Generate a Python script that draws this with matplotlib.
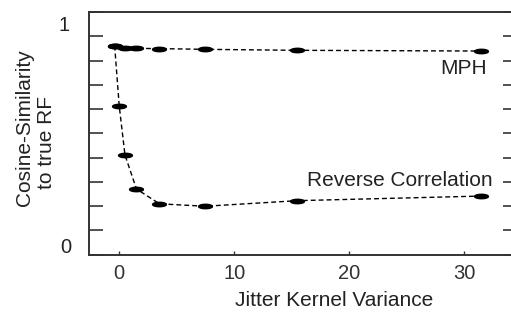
import numpy as np
import matplotlib
matplotlib.use("Agg")
import matplotlib.pyplot as plt

plt.rcParams['font.family'] = ['Liberation Sans', 'DejaVu Sans']

# values
variance_mph = [-0.4, 0.5, 1.5, 3.5, 7.5, 15.5, 31.5]
sim_mph = [0.861, 0.852, 0.850, 0.849, 0.846, 0.842, 0.839]
variance_rc = [-0.4, 0.0, 0.5, 1.5, 3.5, 7.5, 15.5, 31.5]
sim_rc = [0.861, 0.612, 0.410, 0.270, 0.209, 0.199, 0.222, 0.241]
xticks = [0, 10, 20, 30]
yticks = np.round(np.arange(0, 1.01, 0.1), 1)

txt = '#222222'

# flat ellipse marker
t = np.linspace(0, 2 * np.pi, 48)
ellipse = np.column_stack([np.cos(t), 0.32 * np.sin(t)])

fig = plt.figure(figsize=(5.11, 3.15), dpi=100)
ax = fig.add_axes([89 / 511, 1 - 254.5 / 315, (517 - 89) / 511, (254.5 - 12) / 315])

style = dict(color='black', lw=1.0, dashes=(3.5, 2.2), marker=ellipse,
             markersize=10, markerfacecolor='black', markeredgecolor='black')
ax.plot(variance_rc, sim_rc, **style)
ax.plot(variance_mph, sim_mph, **style)

ax.set_xlim(-2.63, 34.6)
ax.set_ylim(0, 1)

ax.set_xticks(xticks)
ax.set_xticklabels([str(v) for v in xticks], fontsize=14.5, color=txt)
ax.set_yticks(yticks)
ax.set_yticklabels([])
ax.tick_params(axis='x', direction='in', length=3, width=1, pad=7, colors='#333333')
ax.tick_params(axis='y', direction='in', length=10, width=1.2, right=True, colors='#333333')
for s in ax.spines.values():
    s.set_linewidth(1.4)
    s.set_color('#333333')

# end labels on y axis sit inside the range
yt = ax.get_yaxis_transform()
ax.text(-0.059, 0.946, '1', transform=yt, ha='center', va='center', fontsize=14.5, color=txt)
ax.text(-0.055, 0.027, '0', transform=yt, ha='center', va='center', fontsize=14.5, color=txt)

ax.text(32.0, 0.765, 'MPH', ha='right', va='center', fontsize=15, color=txt)
ax.text(32.5, 0.306, 'Reverse Correlation', ha='right', va='center', fontsize=15, color=txt)

ax.set_xlabel('Jitter Kernel Variance', fontsize=15, color=txt)
ax.xaxis.set_label_coords((334 - 89) / 428, -0.15)

fig.text(25 / 511, 1 - 127.7 / 315, 'Cosine-Similarity', rotation=90,
         ha='center', va='center', fontsize=15, color=txt)
fig.text(47 / 511, 1 - 142.3 / 315, 'to true RF', rotation=90,
         ha='center', va='center', fontsize=15, color=txt)

fig.savefig('out.png', dpi=100)
